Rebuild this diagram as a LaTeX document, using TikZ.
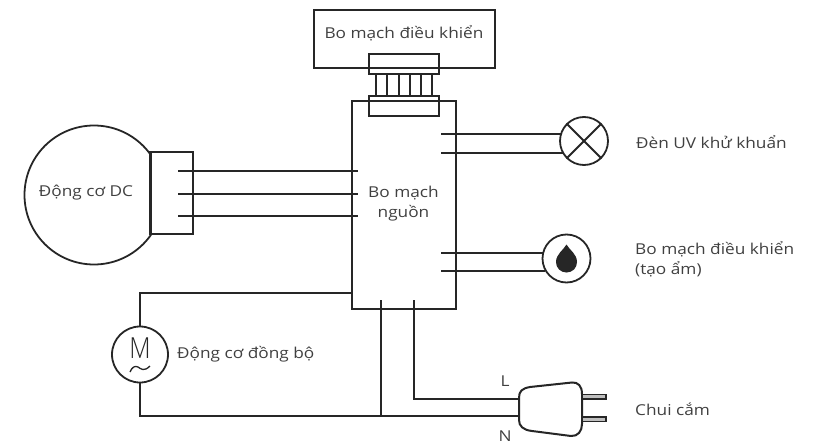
\documentclass[tikz,border=0pt]{standalone}
\usepackage{fontspec}
\setmainfont[FakeStretch=1.15]{Open Sans}
\newfontfamily\mfont[FakeStretch=0.85]{Open Sans Light}
\tikzset{
  line/.style={draw=black!85,line width=2pt},
  txt/.style={font=\fontsize{15}{20}\selectfont,text=black!75,inner sep=0pt},
  round/.style={draw=black!85,line width=1.8pt,circle,minimum size=48pt,inner sep=0pt,fill=white},
  frame/.style={draw=black!85,line width=2pt,inner sep=0pt},
  pin/.style={draw=black!85,line width=1.5pt,fill=black!25,minimum width=24pt,minimum height=4.5pt,inner sep=0pt},
}
\begin{document}
\begin{tikzpicture}[x=1pt,y=-1pt]
\useasboundingbox (0,0) rectangle (814,444);

\node[frame,minimum width=181pt,minimum height=58pt] (ctrl) at (404,39) {};
\node[txt] (ctrltxt) at (404,33.5) {Bo mạch điều khiển};
\node[frame,minimum width=104pt,minimum height=208pt] (main) at (404,205) {};
\node[txt,align=center] (maintxt) at (403.5,204) {Bo mạch\\nguồn};
\node[frame,minimum width=70pt,minimum height=19.5pt] (conu) at (404,64) {};
\node[frame,minimum width=70pt,minimum height=20pt] (conl) at (404,106) {};
\foreach \x in {376,387,399,410,421,432} {
  \draw[line] (\x,73.5) -- (\x,96);
}

% dc motor
\node[frame,circle,line width=1.8pt,minimum size=139pt] (dc) at (94,195) {};
\node[frame,fill=white,minimum width=42pt,minimum height=82pt] (dccon) at (172,193) {};
\draw[line width=3pt,draw=black!85] (dccon.north west) -- (dccon.south west);
\node[txt] (dctxt) at (86,192.5) {Động cơ DC};
\foreach \y in {171,194,216} {
  \draw[line] (178,\y) -- (358,\y);
}

% lamp
\node[round] (uv) at (584,141) {};
\draw[line] (uv.45) -- (uv.225);
\draw[line] (uv.135) -- (uv.315);
\draw[line] (441,134) -- (561,134);
\draw[line] (441,153) -- (563,153);
\node[txt,anchor=west] (uvtxt) at (636,142) {Đèn UV khử khuẩn};

% humidifier
\node[round] (hum) at (566.5,258.5) {};
\fill[black!85] (566.5,244.5) .. controls (563.5,250) and (556,254) .. (556,262) .. controls (556,268) and (560.5,272.5) .. (566.5,272.5) .. controls (572.5,272.5) and (577,268) .. (577,262) .. controls (577,254) and (569.5,250) .. (566.5,244.5) -- cycle;
\draw[line] (441,253) -- (544,253);
\draw[line] (441,271) -- (545,271);
\node[txt,anchor=north west,align=left] (humtxt) at (635,241) {Bo mạch điều khiển\\(tạo ẩm)};

% sync motor
\node[round,minimum size=56pt] (sync) at (140,354.5) {};
\node[inner sep=0pt,font=\mfont\fontsize{29}{29}\selectfont,text=black!85] (mlabel) at (140,348) {M};
\draw[line width=1.3pt,draw=black!85] (130,372) .. controls (132,367) and (135,365.5) .. (138,367) .. controls (141,369) and (144,372) .. (150,366);
\node[txt,anchor=west] (synctxt) at (177,354.5) {Động cơ đồng bộ};
\coordinate (tr) at (352,293);
\coordinate (tl) at (140,293);
\coordinate (bl) at (140,416);
\coordinate (bm) at (381,416);
\coordinate (ltop) at (414,300);
\coordinate (ntop) at (381,300);
\coordinate (lcor) at (414,399);
\draw[line] (tr) -- (tl) -- (sync);
\draw[line] (sync) -- (bl) -- (519,416);
\draw[line] (ntop) -- (bm);
\draw[line] (ltop) -- (lcor) -- (519,399);

% plug
\draw[line,fill=white] (519,398) .. controls (519,391) and (522,388.5) .. (530,387) -- (572,382.5) .. controls (578,382) and (582,386) .. (582,394) -- (582,424) .. controls (582,431) and (578,436.5) .. (571,436) -- (532,431) .. controls (523,430) and (519,426) .. (519,420) -- cycle;
\node[pin] (pina) at (594,396.5) {};
\node[pin] (pinb) at (594,419) {};
\node[txt] (ltxt) at (505,381) {L};
\node[txt] (ntxt) at (505,436.5) {N};
\node[txt,anchor=west] (plugtxt) at (635,409) {Chui cắm};
\end{tikzpicture}
\end{document}
